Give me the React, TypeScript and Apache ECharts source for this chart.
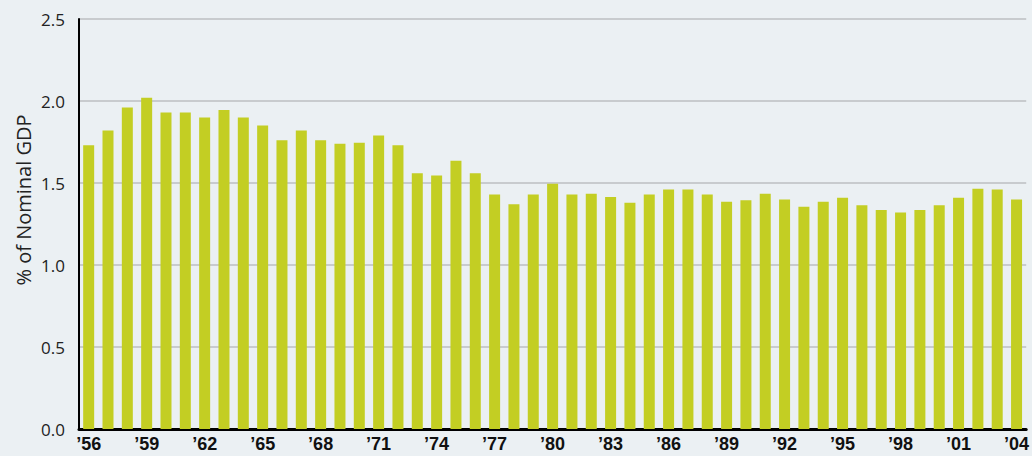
import React, { useEffect, useRef } from "react";
import * as echarts from "echarts";

const years: string[] = [
  "’56", "’57", "’58", "’59", "’60", "’61", "’62", "’63", "’64", "’65",
  "’66", "’67", "’68", "’69", "’70", "’71", "’72", "’73", "’74", "’75",
  "’76", "’77", "’78", "’79", "’80", "’81", "’82", "’83", "’84", "’85",
  "’86", "’87", "’88", "’89", "’90", "’91", "’92", "’93", "’94", "’95",
  "’96", "’97", "’98", "’99", "’00", "’01", "’02", "’03", "’04",
];

const shareOfGdp: number[] = [
  1.73, 1.82, 1.96, 2.02, 1.93, 1.93, 1.9, 1.945, 1.9, 1.85,
  1.76, 1.82, 1.76, 1.74, 1.745, 1.79, 1.73, 1.56, 1.545, 1.635,
  1.56, 1.43, 1.37, 1.43, 1.495, 1.43, 1.435, 1.415, 1.38, 1.43,
  1.46, 1.46, 1.43, 1.385, 1.395, 1.435, 1.4, 1.355, 1.385, 1.41,
  1.365, 1.335, 1.32, 1.335, 1.365, 1.41, 1.465, 1.46, 1.4,
];

const yAxisTitle = "% of Nominal GDP";

export default function App() {
  const ref = useRef<HTMLDivElement>(null);
  useEffect(() => {
    if (!ref.current) return;
    const chart = echarts.init(ref.current, undefined, { renderer: "svg" });
    chart.setOption({
      animation: false,
      backgroundColor: "#ebf0f3",
      grid: { left: 79, right: 0, top: 19, bottom: 27, containLabel: false },
      graphic: [
        {
          type: "text",
          x: 23,
          y: 200,
          rotation: Math.PI / 2,
          style: {
            text: yAxisTitle,
            fontFamily: "Open Sans",
            fontSize: 20,
            fill: "#222",
            align: "center",
            verticalAlign: "middle",
          },
        },
      ],
      xAxis: {
        type: "category",
        data: years,
        axisLine: { lineStyle: { color: "#000", width: 3 } },
        axisTick: { show: false },
        axisLabel: {
          interval: 2,
          color: "#111",
          fontFamily: "Liberation Sans",
          fontWeight: "bold",
          fontSize: 18,
          margin: 6,
        },
      },
      yAxis: {
        type: "value",
        min: 0,
        max: 2.5,
        interval: 0.5,
        axisLine: { show: true, lineStyle: { color: "#000", width: 2 } },
        axisTick: { show: false },
        splitLine: { lineStyle: { color: "#c8cbce", width: 2 } },
        axisLabel: {
          formatter: (v: number) => v.toFixed(1),
          color: "#222",
          fontFamily: "Open Sans",
          fontSize: 17,
          margin: 14,
        },
      },
      series: [
        {
          type: "bar",
          data: shareOfGdp,
          barWidth: 11,
          itemStyle: { color: "#c3ce23" },
        },
      ],
    });
    return () => chart.dispose();
  }, []);
  return (
    <div
      ref={ref}
      style={{ position: "absolute", left: 0, top: 0, width: 1032, height: 456 }}
    />
  );
}
